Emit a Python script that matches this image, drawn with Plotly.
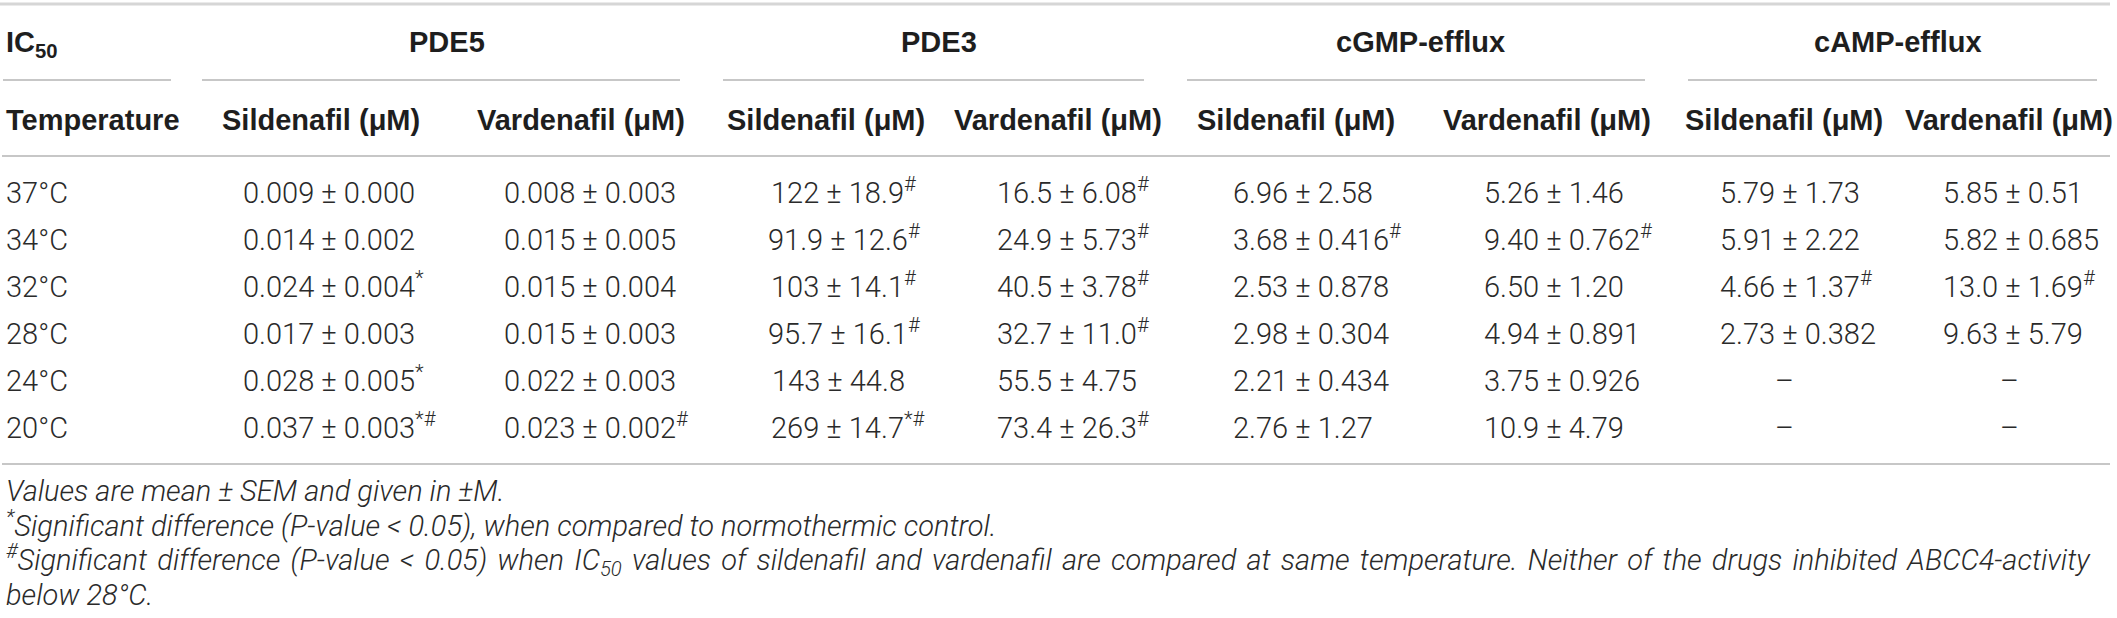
import plotly.graph_objects as go

# ---------------- data ----------------
temperatures = ["37°C", "34°C", "32°C", "28°C", "24°C", "20°C"]
groups = ["PDE5", "PDE3", "cGMP-efflux", "cAMP-efflux"]
drugs = ["Sildenafil (μM)", "Vardenafil (μM)"]

pde5_sildenafil = ["0.009 ± 0.000", "0.014 ± 0.002", "0.024 ± 0.004", "0.017 ± 0.003", "0.028 ± 0.005", "0.037 ± 0.003"]
pde5_sildenafil_marks = ["", "", "*", "", "*", "*#"]
pde5_vardenafil = ["0.008 ± 0.003", "0.015 ± 0.005", "0.015 ± 0.004", "0.015 ± 0.003", "0.022 ± 0.003", "0.023 ± 0.002"]
pde5_vardenafil_marks = ["", "", "", "", "", "#"]
pde3_sildenafil = ["122 ± 18.9", "91.9 ± 12.6", "103 ± 14.1", "95.7 ± 16.1", "143 ± 44.8", "269 ± 14.7"]
pde3_sildenafil_marks = ["#", "#", "#", "#", "", "*#"]
pde3_vardenafil = ["16.5 ± 6.08", "24.9 ± 5.73", "40.5 ± 3.78", "32.7 ± 11.0", "55.5 ± 4.75", "73.4 ± 26.3"]
pde3_vardenafil_marks = ["#", "#", "#", "#", "", "#"]
cgmp_sildenafil = ["6.96 ± 2.58", "3.68 ± 0.416", "2.53 ± 0.878", "2.98 ± 0.304", "2.21 ± 0.434", "2.76 ± 1.27"]
cgmp_sildenafil_marks = ["", "#", "", "", "", ""]
cgmp_vardenafil = ["5.26 ± 1.46", "9.40 ± 0.762", "6.50 ± 1.20", "4.94 ± 0.891", "3.75 ± 0.926", "10.9 ± 4.79"]
cgmp_vardenafil_marks = ["", "#", "", "", "", ""]
camp_sildenafil = ["5.79 ± 1.73", "5.91 ± 2.22", "4.66 ± 1.37", "2.73 ± 0.382", None, None]
camp_sildenafil_marks = ["", "", "#", "", "", ""]
camp_vardenafil = ["5.85 ± 0.51", "5.82 ± 0.685", "13.0 ± 1.69", "9.63 ± 5.79", None, None]
camp_vardenafil_marks = ["", "", "#", "", "", ""]

footnotes = [
    "Values are mean ± SEM and given in ±M.",
    "<sup>*</sup>Significant difference (P-value < 0.05), when compared to normothermic control.",
    "<sup>#</sup>Significant difference (P-value < 0.05) when IC<sub>50</sub> values of sildenafil and vardenafil "
    "are compared at same temperature. Neither of the drugs inhibited ABCC4-activity",
    "below 28°C.",
]
# the third footnote line is justified (stretched) in the original
footnote_word_spacing = [0, 0, 3.2, 0]

columns = [
    (pde5_sildenafil, pde5_sildenafil_marks),
    (pde5_vardenafil, pde5_vardenafil_marks),
    (pde3_sildenafil, pde3_sildenafil_marks),
    (pde3_vardenafil, pde3_vardenafil_marks),
    (cgmp_sildenafil, cgmp_sildenafil_marks),
    (cgmp_vardenafil, cgmp_vardenafil_marks),
    (camp_sildenafil, camp_sildenafil_marks),
    (camp_vardenafil, camp_vardenafil_marks),
]

# ---------------- layout ----------------
W, H = 2117, 618
FONT_BOLD = "Liberation Sans, Arial, Helvetica, sans-serif"
FONT_LIGHT = "Roboto, Liberation Sans, Arial, sans-serif"
FS = 29
FS_NOTE = 29
TXT = "#2a2a2a"
BOLD = "#1e1e1e"
LINE = "#b4b4b4"

table_x0, table_x1 = 2, 2110
group_centers = [447, 939, 1420, 1898]
group_spans = [(202, 680), (723, 1144), (1187, 1645), (1688, 2097)]
label_span = (3, 171)
header_centers = [321, 581, 826, 1058, 1296, 1547, 1784, 2009]
data_x = [241, 502, 838, 995, 1231, 1482, 1718, 1941]
data_align = ["left", "left", "center", "left", "left", "left", "left", "left"]

y_group = 42
y_group_line = 80
y_head = 120
y_head_line = 156
row_y0 = 193
row_step = 47
y_bottom_line = 464
note_y = [491, 526, 560, 595]
left_x = 4

MARK_EM = {"#": 0.56, "*": 0.43}
SCRIPT_SCALE = 0.7


def script_yshift(text, size):
    """Compensate the shift of a middle-anchored text box caused by sup/sub."""
    d = 0.15 * size / 2.0
    s = 0.0
    if "<sup>" in text:
        s += d
    if "<sub>" in text:
        s -= d
    return s


fig = go.Figure()
fig.add_trace(go.Scatter(x=[0, W], y=[0, H], mode="markers",
                         marker=dict(opacity=0), hoverinfo="skip", showlegend=False))

ann = []


def add_text(x, y, text, anchor="left", bold=False, italic=False, size=FS, xshift=0.0):
    ann.append(dict(
        x=x, y=y, xref="x", yref="y", text=text, showarrow=False,
        xanchor=anchor, yanchor="middle",
        xshift=xshift, yshift=script_yshift(text, size),
        font=dict(family=FONT_BOLD if bold else FONT_LIGHT, size=size,
                  color=BOLD if bold else TXT,
                  weight="bold" if bold else 300,
                  style="italic" if italic else "normal"),
    ))


# header row 1
add_text(left_x, y_group, "IC<sub>50</sub>", bold=True)
for g, cx in zip(groups, group_centers):
    add_text(cx, y_group, g, anchor="center", bold=True)

# header row 2
add_text(left_x, y_head, "Temperature", bold=True)
for i, cx in enumerate(header_centers):
    add_text(cx, y_head, drugs[i % 2], anchor="center", bold=True)

# body rows
for r, t in enumerate(temperatures):
    y = row_y0 + r * row_step
    add_text(left_x, y, t)
    for c, (vals, marks) in enumerate(columns):
        v = vals[r]
        m = marks[r]
        if v is None:
            add_text(header_centers[c], y, "–", anchor="center")
            continue
        txt = v + (f"<sup>{m}</sup>" if m else "")
        if data_align[c] == "center":
            mark_w = sum(MARK_EM.get(ch, 0.5) for ch in m) * SCRIPT_SCALE * FS
            add_text(data_x[c], y, txt, anchor="center", xshift=mark_w / 2.0)
        else:
            add_text(data_x[c], y, txt, anchor="left")

# footnotes
for fy, note, ws in zip(note_y, footnotes, footnote_word_spacing):
    txt = f'<span style="word-spacing:{ws}px">{note}</span>' if ws else note
    add_text(left_x, fy, txt, italic=True, size=FS_NOTE)

# rules
shapes = [
    dict(type="line", xref="x", yref="y", x0=0, x1=table_x1, y0=4, y1=4,
         line=dict(color="#d6d6d6", width=3)),
    dict(type="line", xref="x", yref="y", x0=label_span[0], x1=label_span[1],
         y0=y_group_line, y1=y_group_line, line=dict(color=LINE, width=1.5)),
    dict(type="line", xref="x", yref="y", x0=table_x0, x1=table_x1, y0=y_head_line, y1=y_head_line,
         line=dict(color=LINE, width=1.5)),
    dict(type="line", xref="x", yref="y", x0=table_x0, x1=table_x1, y0=y_bottom_line, y1=y_bottom_line,
         line=dict(color=LINE, width=1.5)),
]
for a, b in group_spans:
    shapes.append(dict(type="line", xref="x", yref="y", x0=a, x1=b,
                       y0=y_group_line, y1=y_group_line, line=dict(color=LINE, width=1.5)))

fig.update_layout(
    width=W, height=H,
    margin=dict(l=0, r=0, t=0, b=0),
    paper_bgcolor="white", plot_bgcolor="white",
    xaxis=dict(range=[0, W], visible=False, fixedrange=True),
    yaxis=dict(range=[H, 0], visible=False, fixedrange=True),
    annotations=ann, shapes=shapes, showlegend=False,
)

fig.write_html(
    "out.html",
    config={"displayModeBar": False},
    post_script="document.body.style.margin='0';document.body.style.overflow='hidden';",
)
